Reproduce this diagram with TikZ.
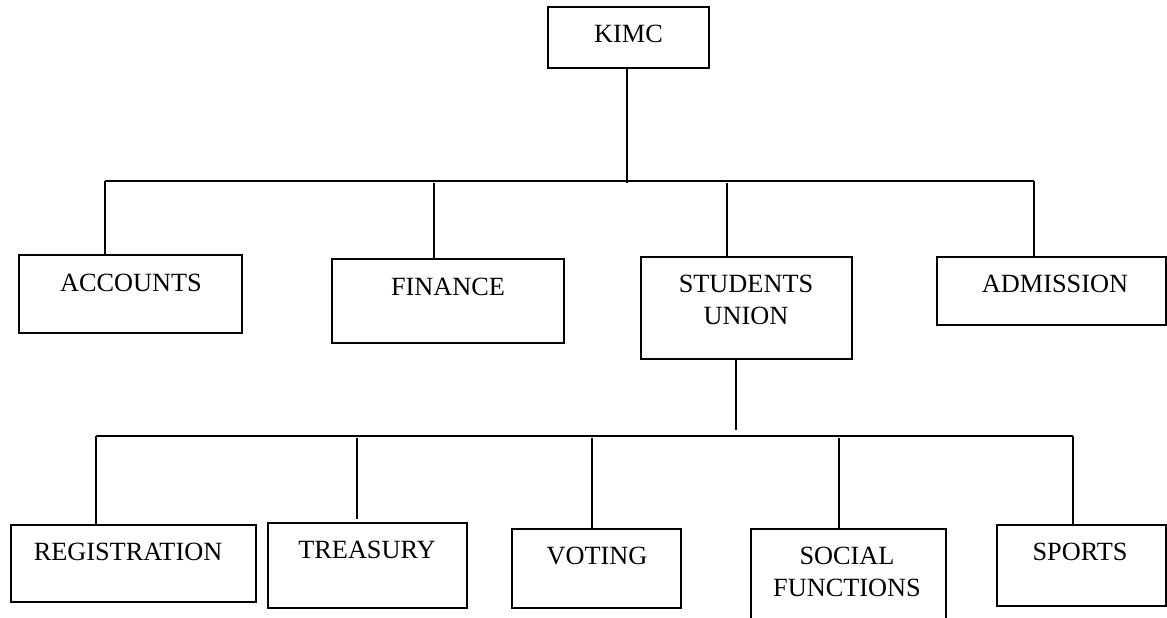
\documentclass[tikz,border=0pt]{standalone}
\usepackage{fontspec}
\setmainfont{Liberation Serif}
\begin{document}
\begin{tikzpicture}[x=1pt,y=-1pt,
  line width=1.8pt,
  box/.style={draw, inner sep=0pt},
  lbl/.style={inner sep=0pt, align=center, font=\fontsize{26.3}{32}\selectfont}]
\useasboundingbox (0,0) rectangle (1167,618);
\clip (0,0) rectangle (1167,618);

% top level
\node[box, minimum width=161, minimum height=61] (kimc) at (628.5,37.5) {};
\node[lbl] (kimc-t) at (628.5,34) {KIMC};

% departments
\node[box, minimum width=223, minimum height=78] (acc) at (130.5,294) {};
\node[lbl] (acc-t) at (131,283) {ACCOUNTS};
\node[box, minimum width=232, minimum height=84] (fin) at (448,301) {};
\node[lbl] (fin-t) at (448,287) {FINANCE};
\node[box, minimum width=211, minimum height=102] (su) at (746.5,308) {};
\node[lbl] (su-t) at (746,300) {STUDENTS\\UNION};
\node[box, minimum width=229, minimum height=68] (adm) at (1051.5,291) {};
\node[lbl] (adm-t) at (1055,284) {ADMISSION};

% students union sections
\node[box, minimum width=245, minimum height=77] (reg) at (133.5,563.5) {};
\node[lbl] (reg-t) at (128,552) {REGISTRATION};
\node[box, minimum width=199, minimum height=85] (tre) at (367.5,565.5) {};
\node[lbl] (tre-t) at (367,550) {TREASURY};
\node[box, minimum width=169, minimum height=79] (vot) at (596.5,568.5) {};
\node[lbl] (vot-t) at (597,556) {VOTING};
\node[box, minimum width=195, minimum height=111] (soc) at (848.5,584.5) {};
\node[lbl] (soc-t) at (847,571.5) {SOCIAL\\FUNCTIONS};
\node[box, minimum width=169, minimum height=81] (spo) at (1081.5,565.5) {};
\node[lbl] (spo-t) at (1080,552) {SPORTS};

% upper bus
\coordinate (k0) at (627,183);
\coordinate (tl) at (105,181);
\coordinate (tr) at (1034,181);
\coordinate (t2) at (434,183);
\coordinate (t3) at (727,183);
\draw (kimc.south -| k0) -- (k0);
\draw (tl) -- (tr);
\draw (tl) -- (tl |- acc.north);
\draw (t2) -- (t2 |- fin.north);
\draw (t3) -- (t3 |- su.north);
\draw (tr) -- (tr |- adm.north);

% lower bus
\coordinate (s0) at (736,430);
\coordinate (bl) at (96,436);
\coordinate (br) at (1073,436);
\coordinate (b2) at (357,438);
\coordinate (b2e) at (357,519);
\coordinate (b3) at (592,438);
\coordinate (b4) at (839,438);
\draw (su.south -| s0) -- (s0);
\draw (bl) -- (br);
\draw (bl) -- (bl |- reg.north);
\draw (b2) -- (b2e);
\draw (b3) -- (b3 |- vot.north);
\draw (b4) -- (b4 |- soc.north);
\draw (br) -- (br |- spo.north);
\end{tikzpicture}
\end{document}
